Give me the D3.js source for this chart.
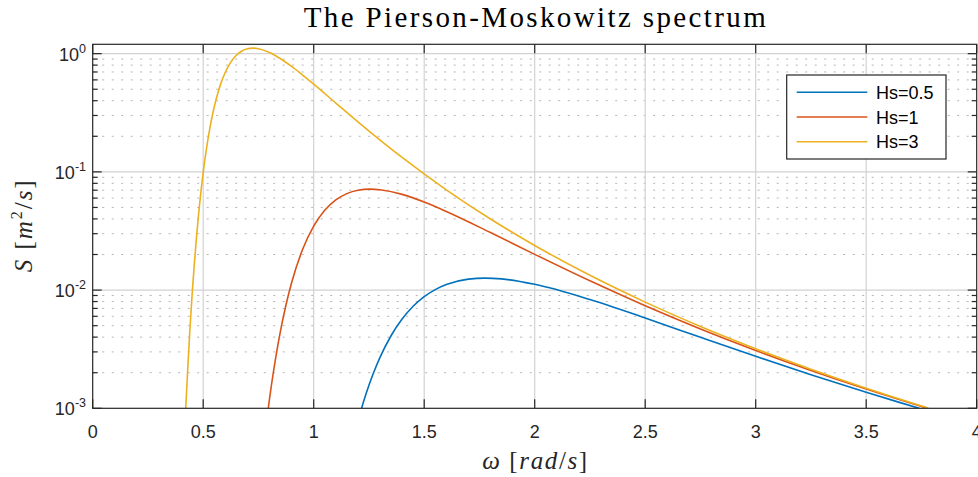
<!DOCTYPE html>
<html><head><meta charset="utf-8">
<script src="https://cdn.jsdelivr.net/npm/d3@7"></script>
<style>
html,body{margin:0;padding:0;background:#fff;}
svg{display:block;}
</style></head>
<body>
<svg id="chart" width="978" height="477"></svg>
<script>
// ---- data ----
const seriesNames = ["Hs=0.5", "Hs=1", "Hs=3"];
const omegaHs05 = [1.2167, 1.23, 1.25, 1.27, 1.3, 1.35, 1.4, 1.45, 1.5, 1.55, 1.6, 1.7, 1.776, 1.85, 2.0, 2.25, 2.5, 2.75, 3.0, 3.25, 3.5, 3.65, 3.74];
const sHs05 = [0.00100, 0.001208, 0.001565, 0.001977, 0.002695, 0.004108, 0.005686, 0.007291, 0.008794, 0.010096, 0.011139, 0.012380, 0.012635, 0.012438, 0.011194, 0.008320, 0.005806, 0.003987, 0.002751, 0.001923, 0.001366, 0.001122, 0.00100];
const omegaHs1 = [0.7945, 0.8, 0.81, 0.83, 0.85, 0.875, 0.9, 0.95, 1.0, 1.05, 1.1, 1.15, 1.2, 1.256, 1.3, 1.4, 1.5, 1.6, 1.8, 2.0, 2.25, 2.5, 2.75, 3.0, 3.25, 3.5, 3.78];
const sHs1 = [0.00100, 0.001199, 0.001629, 0.002821, 0.004542, 0.007545, 0.011535, 0.022128, 0.034767, 0.047281, 0.057857, 0.065477, 0.069912, 0.07147, 0.070669, 0.064506, 0.055533, 0.046254, 0.030676, 0.020057, 0.011973, 0.007372, 0.004694, 0.003087, 0.002091, 0.001454, 0.000995];
const omegaHs3 = [0.421, 0.43, 0.44, 0.45, 0.46, 0.47, 0.48, 0.49, 0.5, 0.515, 0.53, 0.545, 0.56, 0.58, 0.6, 0.625, 0.65, 0.675, 0.7, 0.725, 0.75, 0.8, 0.85, 0.9, 0.95, 1.0, 1.1, 1.2, 1.4, 1.6, 1.8, 2.0, 2.25, 2.5, 2.75, 3.0, 3.25, 3.5, 3.78];
const sHs3 = [0.00100, 0.00216, 0.00468, 0.00925, 0.01684, 0.02857, 0.04555, 0.06879, 0.0990, 0.1582, 0.2336, 0.3227, 0.4216, 0.5605, 0.6968, 0.8490, 0.9695, 1.0528, 1.0998, 1.1141, 1.1022, 1.0233, 0.9062, 0.7796, 0.6591, 0.5518, 0.3823, 0.2652, 0.13247, 0.070523, 0.039918, 0.023840, 0.013337, 0.007912, 0.004927, 0.003194, 0.002143, 0.001481, 0.001008];
const seriesColors = ["#0072BD", "#D95319", "#EDB120"];
const xTicks = [0, 0.5, 1, 1.5, 2, 2.5, 3, 3.5, 4];
const xTickLabels = ["0", "0.5", "1", "1.5", "2", "2.5", "3", "3.5", "4"];
const yTicks = [1e-3, 1e-2, 1e-1, 1e0];
const yTickExponents = ["-3", "-2", "-1", "0"];
const titleText = "The Pierson-Moskowitz spectrum";

// ---- layout ----
const L = 92.7, R = 976.7, T = 44.3, B = 408.3;
const svg = d3.select("#chart");
const x = d3.scaleLinear().domain([0, 4]).range([L, R]);
const y = d3.scaleLog().domain([1e-3, 1.2]).range([B, T]);
const axisColor = "#262626";
const sans = "'Liberation Sans', Arial, Helvetica, sans-serif";
const serif = "'Liberation Serif', 'Times New Roman', serif";

// minor values
const minorY = [];
for (let e = -3; e <= 0; e++) for (let m = 2; m <= 9; m++) { const v = m * Math.pow(10, e); if (v < 1.2) minorY.push(v); }

// grid
const g = svg.append("g");
g.selectAll(".mg").data(minorY).enter().append("line")
  .attr("x1", L).attr("x2", R).attr("y1", d => y(d)).attr("y2", d => y(d))
  .attr("stroke", "#b5b5b5").attr("stroke-width", 1).attr("stroke-dasharray", "2 7.5");
g.selectAll(".gx").data(xTicks.slice(1, -1)).enter().append("line")
  .attr("x1", d => x(d)).attr("x2", d => x(d)).attr("y1", T).attr("y2", B)
  .attr("stroke", "#d2d2d2").attr("stroke-width", 1.2);
g.selectAll(".gy").data(yTicks.slice(1)).enter().append("line")
  .attr("x1", L).attr("x2", R).attr("y1", d => y(d)).attr("y2", d => y(d))
  .attr("stroke", "#d2d2d2").attr("stroke-width", 1.2);

// curves
svg.append("clipPath").attr("id", "clip").append("rect")
  .attr("x", L).attr("y", T).attr("width", R - L).attr("height", B - T);
const omegas = [omegaHs05, omegaHs1, omegaHs3];
const svals = [sHs05, sHs1, sHs3];
const line = d3.line().x(d => x(d[0])).y(d => y(d[1])).curve(d3.curveMonotoneX);
const curves = svg.append("g").attr("clip-path", "url(#clip)");
omegas.forEach((w, i) => {
  const pts = w.map((v, j) => [v, svals[i][j]]);
  curves.append("path").datum(pts).attr("d", line)
    .attr("fill", "none").attr("stroke", seriesColors[i]).attr("stroke-width", 1.6);
});

// axes box + ticks
const ax = svg.append("g").attr("stroke", axisColor).attr("stroke-width", 1.2);
ax.append("rect").attr("x", L).attr("y", T).attr("width", R - L).attr("height", B - T).attr("fill", "none");
xTicks.forEach(v => {
  ax.append("line").attr("x1", x(v)).attr("x2", x(v)).attr("y1", B).attr("y2", B - 9);
  ax.append("line").attr("x1", x(v)).attr("x2", x(v)).attr("y1", T).attr("y2", T + 9);
});
yTicks.forEach(v => {
  ax.append("line").attr("x1", L).attr("x2", L + 9).attr("y1", y(v)).attr("y2", y(v));
  ax.append("line").attr("x1", R).attr("x2", R - 9).attr("y1", y(v)).attr("y2", y(v));
});
minorY.forEach(v => {
  ax.append("line").attr("x1", L).attr("x2", L + 5).attr("y1", y(v)).attr("y2", y(v));
  ax.append("line").attr("x1", R).attr("x2", R - 5).attr("y1", y(v)).attr("y2", y(v));
});

// tick labels
svg.append("g").selectAll("text").data(xTicks).enter().append("text")
  .attr("x", d => x(d)).attr("y", 438).attr("text-anchor", "middle")
  .attr("font-family", sans).attr("font-size", 18).attr("fill", axisColor)
  .text((d, i) => xTickLabels[i]);
const yl = svg.append("g").selectAll("text").data(yTicks).enter().append("text")
  .attr("x", 86).attr("y", d => y(d) + 7).attr("text-anchor", "end")
  .attr("font-family", sans).attr("font-size", 18).attr("fill", axisColor);
yl.append("tspan").text("10");
yl.append("tspan").attr("font-size", 12.5).attr("dy", -8).text((d, i) => yTickExponents[i]);

// title
svg.append("text").attr("x", (L + R) / 2).attr("y", 27).attr("text-anchor", "middle")
  .attr("font-family", serif).attr("font-size", 29).attr("fill", "#000")
  .attr("textLength", 462).attr("lengthAdjust", "spacing").text(titleText);

// x label
const xl = svg.append("text").attr("x", (L + R) / 2).attr("y", 469).attr("text-anchor", "middle")
  .attr("font-family", serif).attr("font-size", 25).attr("fill", axisColor)
  .attr("textLength", 105).attr("lengthAdjust", "spacing");
xl.append("tspan").attr("font-style", "italic").text("ω");
xl.append("tspan").text(" [");
xl.append("tspan").attr("font-style", "italic").text("rad");
xl.append("tspan").text("/");
xl.append("tspan").attr("font-style", "italic").text("s");
xl.append("tspan").text("]");

// y label
const ylab = svg.append("text").attr("transform", `translate(32,${(T + B) / 2}) rotate(-90)`)
  .attr("text-anchor", "middle").attr("font-family", serif).attr("font-size", 25).attr("fill", axisColor)
  .attr("textLength", 92).attr("lengthAdjust", "spacing");
ylab.append("tspan").attr("font-style", "italic").text("S");
ylab.append("tspan").text(" [");
ylab.append("tspan").attr("font-style", "italic").text("m");
ylab.append("tspan").attr("font-size", 16).attr("dy", -10).text("2");
ylab.append("tspan").attr("dy", 10).text("/");
ylab.append("tspan").attr("font-style", "italic").text("s");
ylab.append("tspan").text("]");

// legend
const lg = svg.append("g");
lg.append("rect").attr("x", 786.7).attr("y", 75).attr("width", 159.3).attr("height", 84)
  .attr("fill", "#fff").attr("stroke", axisColor).attr("stroke-width", 1.2);
seriesNames.forEach((n, i) => {
  const yy = 92.3 + i * 24.7;
  lg.append("line").attr("x1", 796.7).attr("x2", 867.3).attr("y1", yy).attr("y2", yy)
    .attr("stroke", seriesColors[i]).attr("stroke-width", 1.6);
  lg.append("text").attr("x", 876).attr("y", yy + 6.5).attr("font-family", sans)
    .attr("font-size", 18).attr("fill", "#000").text(n);
});
</script>
</body></html>
